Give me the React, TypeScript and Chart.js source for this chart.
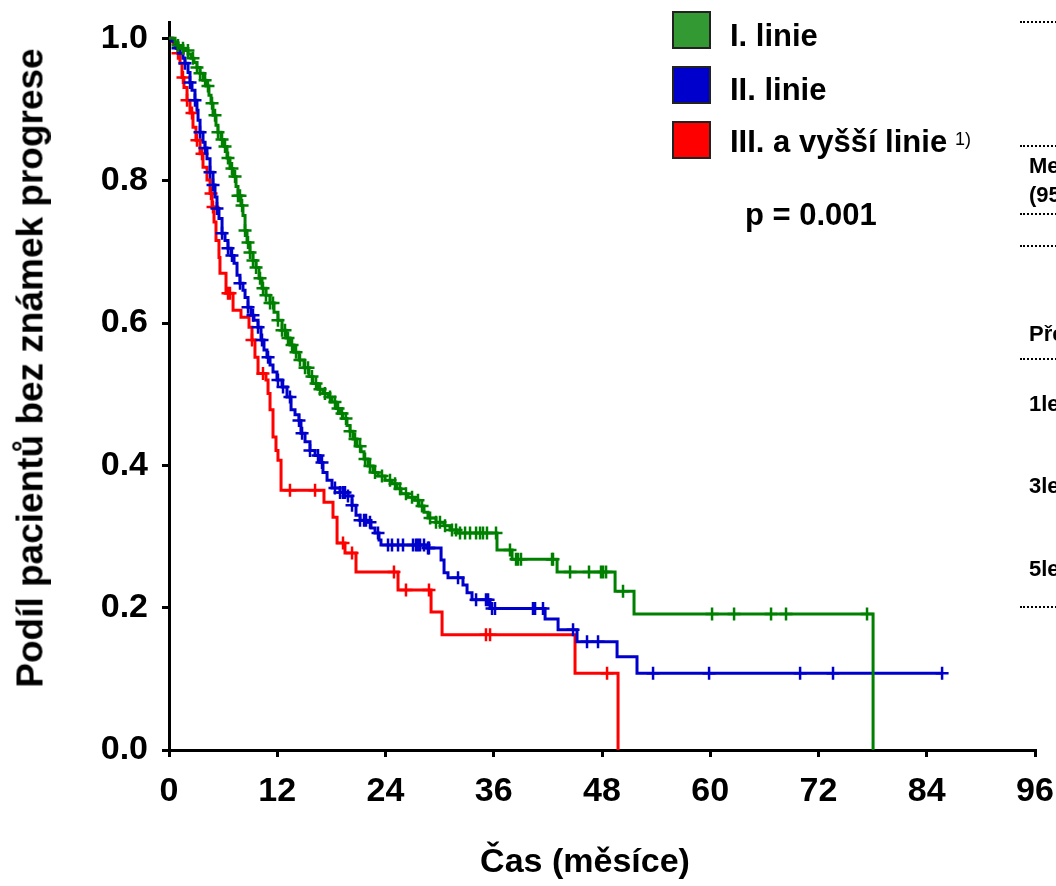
import React, { useEffect, useRef } from "react";
import { Chart, registerables } from "chart.js";

Chart.register(...registerables);

// ---------- DATA (months, proportion without progression) ----------
const seriesNames = ["I. linie", "II. linie", "III. a vyšší linie"];

const greenTimes = [0.67, 1.0, 1.33, 1.77, 2.11, 2.44, 2.77, 3.1, 3.44, 3.77, 4.1, 4.43, 4.66, 4.88, 5.21, 5.43, 5.76, 6.1, 6.43, 6.76, 7.1, 7.43, 7.65, 7.98, 8.2, 8.43, 8.65, 8.98, 9.31, 9.65, 9.98, 10.31, 10.75, 11.2, 11.64, 12.08, 12.53, 12.97, 13.41, 13.86, 14.41, 14.97, 15.52, 15.96, 16.52, 17.07, 17.63, 18.07, 18.51, 18.96, 19.29, 19.73, 20.07, 20.4, 20.84, 21.29, 21.62, 22.06, 22.62, 23.17, 23.95, 24.72, 25.28, 25.72, 26.5, 27.27, 27.72, 28.27, 28.71, 29.6, 30.49, 31.15, 31.93, 36.36, 38.03, 43.02, 49.45, 51.55, 78.05];
const greenSurv = [0.994, 0.99, 0.986, 0.983, 0.978, 0.972, 0.966, 0.959, 0.951, 0.941, 0.933, 0.92, 0.909, 0.892, 0.878, 0.868, 0.858, 0.848, 0.832, 0.817, 0.806, 0.792, 0.779, 0.765, 0.751, 0.73, 0.713, 0.699, 0.688, 0.678, 0.663, 0.649, 0.639, 0.628, 0.615, 0.604, 0.59, 0.579, 0.569, 0.559, 0.548, 0.537, 0.525, 0.515, 0.507, 0.501, 0.496, 0.489, 0.48, 0.473, 0.466, 0.456, 0.448, 0.437, 0.427, 0.419, 0.409, 0.399, 0.39, 0.385, 0.379, 0.374, 0.367, 0.36, 0.355, 0.351, 0.343, 0.334, 0.326, 0.32, 0.315, 0.309, 0.305, 0.281, 0.268, 0.25, 0.223, 0.191, 0];
const greenCensor = [1.0, 1.55, 2.1, 2.66, 3.1, 3.44, 4.0, 4.32, 4.77, 5.1, 5.43, 5.88, 6.21, 6.54, 6.98, 7.32, 7.65, 7.87, 8.1, 8.43, 8.76, 8.98, 9.31, 9.65, 10.09, 10.42, 10.75, 11.2, 11.53, 12.08, 12.53, 12.86, 13.19, 13.64, 14.08, 14.52, 15.08, 15.41, 15.85, 16.3, 16.74, 17.29, 17.85, 18.4, 18.74, 19.18, 19.62, 20.07, 20.62, 21.18, 21.73, 22.28, 22.84, 23.61, 24.5, 25.06, 25.61, 26.27, 26.94, 27.6, 28.05, 28.94, 29.6, 30.04, 30.6, 31.37, 31.82, 32.26, 32.82, 33.37, 34.04, 34.48, 34.81, 35.25, 36.25, 37.8, 38.47, 38.69, 39.02, 42.46, 42.57, 44.46, 46.56, 47.89, 48.12, 48.45, 50.33, 60.2, 62.64, 66.74, 68.4, 77.38];

const blueTimes = [0.33, 0.67, 0.89, 1.22, 1.55, 1.77, 2.11, 2.33, 2.55, 2.88, 3.1, 3.22, 3.44, 3.77, 3.99, 4.21, 4.55, 4.88, 5.1, 5.32, 5.54, 5.88, 6.21, 6.54, 6.87, 7.21, 7.54, 7.87, 8.2, 8.43, 8.76, 9.09, 9.42, 9.87, 10.2, 10.53, 10.86, 11.2, 11.53, 11.97, 12.53, 13.08, 13.53, 13.97, 14.41, 14.63, 15.08, 15.63, 16.19, 16.74, 17.07, 17.52, 18.07, 18.96, 19.84, 20.29, 20.73, 21.18, 21.95, 22.39, 22.84, 23.28, 23.5, 28.6, 30.16, 30.49, 30.93, 32.59, 33.04, 33.59, 35.59, 41.69, 43.13, 45.23, 49.67, 51.88, 85.7];
const blueSurv = [0.996, 0.99, 0.986, 0.979, 0.972, 0.965, 0.952, 0.938, 0.927, 0.913, 0.899, 0.885, 0.868, 0.854, 0.846, 0.831, 0.812, 0.794, 0.777, 0.761, 0.747, 0.726, 0.716, 0.705, 0.695, 0.684, 0.667, 0.656, 0.646, 0.636, 0.622, 0.611, 0.604, 0.594, 0.576, 0.562, 0.552, 0.541, 0.531, 0.52, 0.51, 0.496, 0.478, 0.471, 0.463, 0.445, 0.433, 0.421, 0.414, 0.404, 0.39, 0.379, 0.368, 0.362, 0.357, 0.344, 0.33, 0.323, 0.32, 0.312, 0.305, 0.295, 0.288, 0.284, 0.267, 0.249, 0.242, 0.232, 0.221, 0.211, 0.199, 0.184, 0.169, 0.152, 0.131, 0.108, 0.108];
const blueCensor = [1.0, 1.77, 2.33, 2.88, 3.44, 3.99, 4.55, 4.88, 5.32, 5.88, 6.54, 6.98, 7.87, 8.76, 9.31, 9.87, 10.31, 10.98, 12.08, 12.64, 13.41, 14.41, 14.75, 15.63, 16.52, 16.96, 18.4, 18.96, 19.29, 19.51, 19.84, 20.29, 21.18, 21.62, 21.84, 22.28, 23.17, 24.28, 24.72, 25.39, 25.94, 27.05, 27.38, 27.6, 27.83, 28.27, 28.71, 28.82, 32.04, 34.04, 35.14, 35.37, 35.81, 36.14, 40.35, 40.58, 41.46, 44.79, 46.34, 47.56, 53.66, 59.87, 69.96, 73.61, 85.7];

const redTimes = [0.44, 0.78, 1.0, 1.22, 1.44, 1.66, 2.0, 2.33, 2.66, 2.99, 3.44, 3.77, 4.21, 4.55, 4.77, 4.99, 5.21, 5.54, 5.65, 6.32, 7.1, 7.98, 8.87, 9.2, 9.53, 9.87, 10.75, 10.98, 11.2, 11.53, 11.86, 12.08, 12.42, 17.18, 18.18, 18.63, 19.51, 20.73, 25.39, 29.05, 30.27, 45.01, 49.78];
const redSurv = [0.993, 0.986, 0.979, 0.965, 0.945, 0.931, 0.913, 0.895, 0.875, 0.857, 0.838, 0.819, 0.801, 0.782, 0.763, 0.742, 0.716, 0.692, 0.67, 0.642, 0.618, 0.608, 0.594, 0.576, 0.552, 0.529, 0.52, 0.501, 0.478, 0.44, 0.421, 0.407, 0.365, 0.348, 0.327, 0.291, 0.277, 0.25, 0.225, 0.194, 0.162, 0.108, 0];
const redCensor = [1.0, 1.55, 2.0, 2.55, 3.1, 3.66, 4.66, 4.88, 6.54, 6.76, 9.2, 10.42, 13.41, 16.19, 19.29, 20.29, 24.94, 26.27, 28.82, 35.14, 35.59, 48.56];

const xTicks = [0, 12, 24, 36, 48, 60, 72, 84, 96];
const yTicks = [0, 0.2, 0.4, 0.6, 0.8, 1.0];

const pValueText = "p = 0.001";
const xTitle = "Čas (měsíce)";
const yTitle = "Podíl pacientů bez známek progrese";
const tableLabels = ["Medián", "(95% CI)", "Přežití", "1leté", "3leté", "5leté"];

// ---------- STYLE ----------
const FONT = '"Liberation Sans", Arial, Helvetica, sans-serif';
const lineColors = ["#008000", "#0000CC", "#FF0000"];
const swatchColors = ["#339933", "#0000CC", "#FF0000"];

function survivalAt(times: number[], surv: number[], t: number) {
  let s = 1;
  for (let i = 0; i < times.length; i++) {
    if (times[i] <= t) s = surv[i];
    else break;
  }
  return s;
}

function curve(times: number[], surv: number[]) {
  return [{ x: 0, y: 1 }, ...times.map((t, i) => ({ x: t, y: surv[i] }))];
}

function censors(times: number[], surv: number[], ct: number[]) {
  return ct.map((t) => ({ x: t, y: survivalAt(times, surv, t) }));
}

function zeroPadding(s: any) {
  s.paddingTop = 0;
  s.paddingBottom = 0;
  s.paddingLeft = 0;
  s.paddingRight = 0;
}

export default function App() {
  const ref = useRef<HTMLCanvasElement | null>(null);

  useEffect(() => {
    if (!ref.current) return;
    const groups = [
      [greenTimes, greenSurv, greenCensor],
      [blueTimes, blueSurv, blueCensor],
      [redTimes, redSurv, redCensor],
    ];
    const datasets: any[] = [];
    groups.forEach((g, i) => {
      datasets.push({
        type: "line",
        label: seriesNames[i],
        data: curve(g[0], g[1]),
        stepped: "before",
        borderColor: lineColors[i],
        borderWidth: 3,
        pointRadius: 0,
        fill: false,
        order: i * 2 + 1,
      });
      datasets.push({
        type: "scatter",
        label: seriesNames[i] + " (cenzurováno)",
        data: censors(g[0], g[1], g[2]),
        pointStyle: "cross",
        pointRadius: 6.5,
        pointBorderWidth: 2.5,
        borderColor: lineColors[i],
        backgroundColor: lineColors[i],
        showLine: false,
        order: i * 2,
      });
    });

    const tickFont = { family: FONT, size: 34, weight: "bold" as const };

    const chart = new Chart(ref.current, {
      type: "line",
      data: { datasets },
      options: {
        animation: false,
        responsive: false,
        maintainAspectRatio: false,
        devicePixelRatio: 1,
        layout: { padding: { left: 0, right: 21, top: 22, bottom: 0 } },
        plugins: { legend: { display: false }, tooltip: { enabled: false } },
        scales: {
          x: {
            type: "linear",
            min: 0,
            max: 96,
            afterBuildTicks: (s: any) => {
              s.ticks = xTicks.map((v) => ({ value: v }));
            },
            ticks: {
              autoSkip: false,
              maxRotation: 0,
              color: "#000",
              font: tickFont,
              padding: 14,
              callback: (v: any) => String(v),
            },
            grid: {
              drawOnChartArea: false,
              drawTicks: true,
              tickLength: 7,
              color: "#000",
              lineWidth: 3,
            },
            border: { display: true, color: "#000", width: 3 },
            afterFit: (s: any) => {
              s.height = 136;
              zeroPadding(s);
            },
          },
          y: {
            type: "linear",
            min: 0,
            max: 1.023,
            afterBuildTicks: (s: any) => {
              s.ticks = yTicks.map((v) => ({ value: v }));
            },
            ticks: {
              autoSkip: false,
              color: "#000",
              font: tickFont,
              padding: 14,
              callback: (v: any) => Number(v).toFixed(1),
            },
            grid: {
              drawOnChartArea: false,
              drawTicks: true,
              tickLength: 7,
              color: "#000",
              lineWidth: 3,
            },
            border: { display: true, color: "#000", width: 3 },
            afterFit: (s: any) => {
              s.width = 169;
              zeroPadding(s);
            },
          },
        },
      },
    } as any);
    return () => chart.destroy();
  }, []);

  const legendTops = [11, 66, 121];
  const legendBaselines = [46, 100, 152];
  const tableTexts = [
    { t: tableLabels[0], base: 174 },
    { t: tableLabels[1], base: 203 },
    { t: tableLabels[2], base: 342 },
    { t: tableLabels[3], base: 412 },
    { t: tableLabels[4], base: 494 },
    { t: tableLabels[5], base: 577 },
  ];
  const dottedYs = [21, 145, 213, 245, 358, 606];

  return (
    <div
      style={{
        position: "absolute",
        left: 0,
        top: 0,
        width: 1056,
        height: 886,
        overflow: "hidden",
        background: "#fff",
        fontFamily: FONT,
        fontWeight: "bold",
        color: "#000",
      }}
    >
      <canvas
        ref={ref}
        width={1056}
        height={886}
        style={{ position: "absolute", left: 0, top: 0, width: 1056, height: 886 }}
      />
      {/* Y title */}
      <div
        style={{
          position: "absolute",
          left: 30,
          top: 368,
          transform: "translate(-50%, -50%) rotate(-90deg)",
          whiteSpace: "nowrap",
          fontSize: 37,
          lineHeight: "37px",
        }}
      >
        {yTitle}
      </div>
      {/* X title */}
      <div
        style={{
          position: "absolute",
          left: 585,
          top: 872 - 0.8465 * 34,
          transform: "translateX(-50%)",
          whiteSpace: "nowrap",
          fontSize: 34,
          lineHeight: "34px",
        }}
      >
        {xTitle}
      </div>
      {/* Legend */}
      {seriesNames.map((n, i) => (
        <React.Fragment key={n}>
          <div
            style={{
              position: "absolute",
              left: 672,
              top: legendTops[i],
              width: 39,
              height: 38,
              boxSizing: "border-box",
              border: "2px solid #222",
              background: swatchColors[i],
            }}
          />
          <div
            style={{
              position: "absolute",
              left: 730,
              top: legendBaselines[i] - 0.8465 * 31,
              fontSize: 31,
              lineHeight: "31px",
              whiteSpace: "nowrap",
            }}
          >
            {n}
          </div>
        </React.Fragment>
      ))}
      <div
        style={{
          position: "absolute",
          left: 955,
          top: 145 - 0.8465 * 18,
          fontSize: 18,
          lineHeight: "18px",
          fontWeight: "normal",
          whiteSpace: "nowrap",
        }}
      >
        1)
      </div>
      {/* p-value */}
      <div
        style={{
          position: "absolute",
          left: 745,
          top: 225 - 0.8465 * 31,
          fontSize: 31,
          lineHeight: "31px",
          whiteSpace: "nowrap",
        }}
      >
        {pValueText}
      </div>
      {/* Cut-off table on the right */}
      {dottedYs.map((y) => (
        <div
          key={y}
          style={{
            position: "absolute",
            left: 1020,
            top: y,
            width: 60,
            height: 0,
            borderTop: "2px dotted #000",
          }}
        />
      ))}
      {tableTexts.map((r) => (
        <div
          key={r.t}
          style={{
            position: "absolute",
            left: 1029,
            top: r.base - 0.8465 * 22,
            fontSize: 22,
            lineHeight: "22px",
            whiteSpace: "nowrap",
          }}
        >
          {r.t}
        </div>
      ))}
    </div>
  );
}
